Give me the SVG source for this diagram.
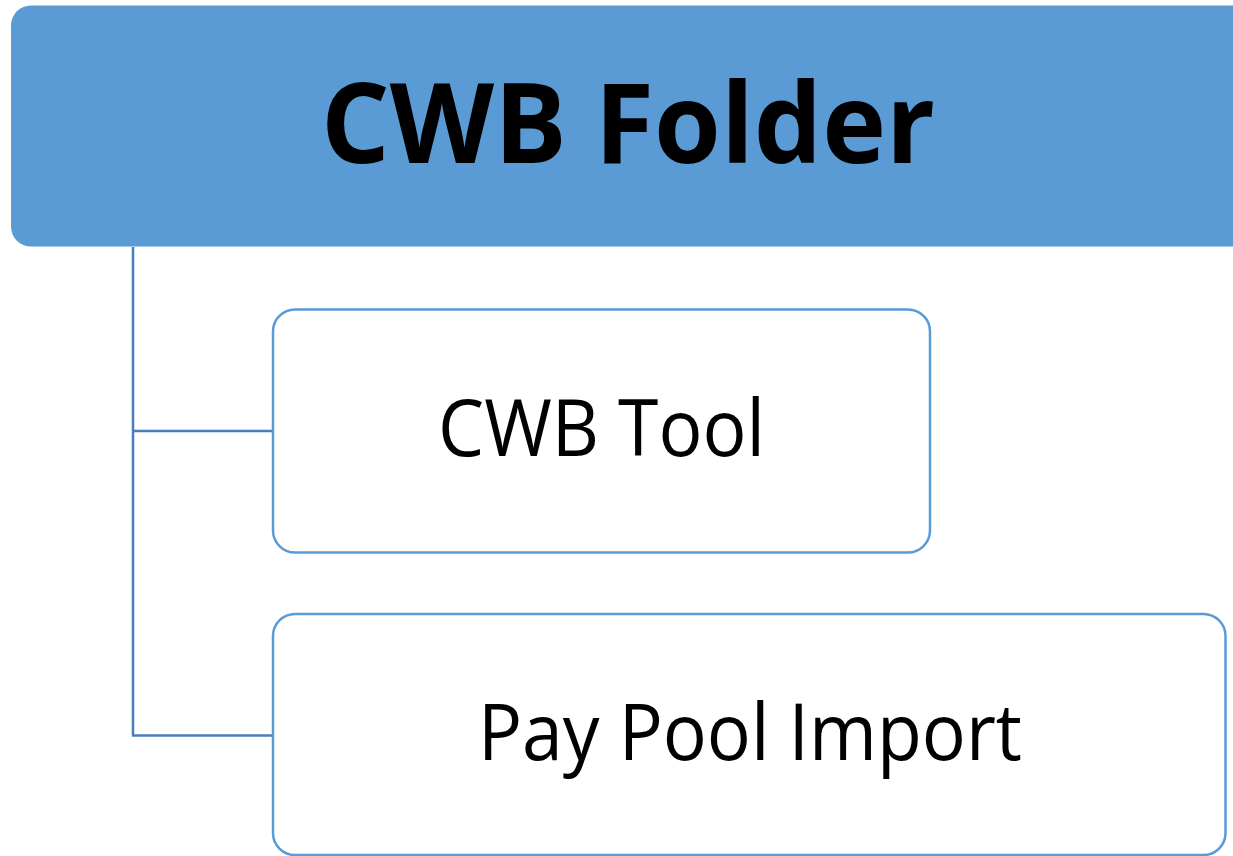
<svg xmlns="http://www.w3.org/2000/svg" width="1233" height="856" viewBox="0 0 1233 856">
<style>
.root{fill:#5B9BD5;stroke:none}
.child{fill:#FFFFFF;stroke:#5B9BD5;stroke-width:2.5}
.conn{fill:none;stroke:#4A7EBB;stroke-width:2.5}
.t{font-family:"Open Sans","Noto Sans","Liberation Sans",sans-serif;fill:#000000}
.tb{font-weight:bold}
</style>
<rect width="1233" height="856" fill="#FFFFFF"/>
<g id="connectors">
<path class="conn" d="M133,247 V735.5 H273"/>
<path class="conn" d="M133,431 H273"/>
</g>
<g id="cwb-folder">
<rect class="root" x="11" y="5.5" width="1240" height="241" rx="20" ry="20"/>
<text class="t tb" x="321" y="163" font-size="112" textLength="614" lengthAdjust="spacingAndGlyphs">CWB Folder</text>
</g>
<g id="cwb-tool">
<rect class="child" x="273" y="309.5" width="657" height="243" rx="22" ry="22"/>
<text class="t" x="438" y="456" font-size="78" textLength="327" lengthAdjust="spacingAndGlyphs">CWB Tool</text>
</g>
<g id="pay-pool-import">
<rect class="child" x="273" y="614" width="952.5" height="241" rx="22" ry="22"/>
<text class="t" x="478" y="760" font-size="78" textLength="544" lengthAdjust="spacingAndGlyphs">Pay Pool Import</text>
</g>
</svg>
